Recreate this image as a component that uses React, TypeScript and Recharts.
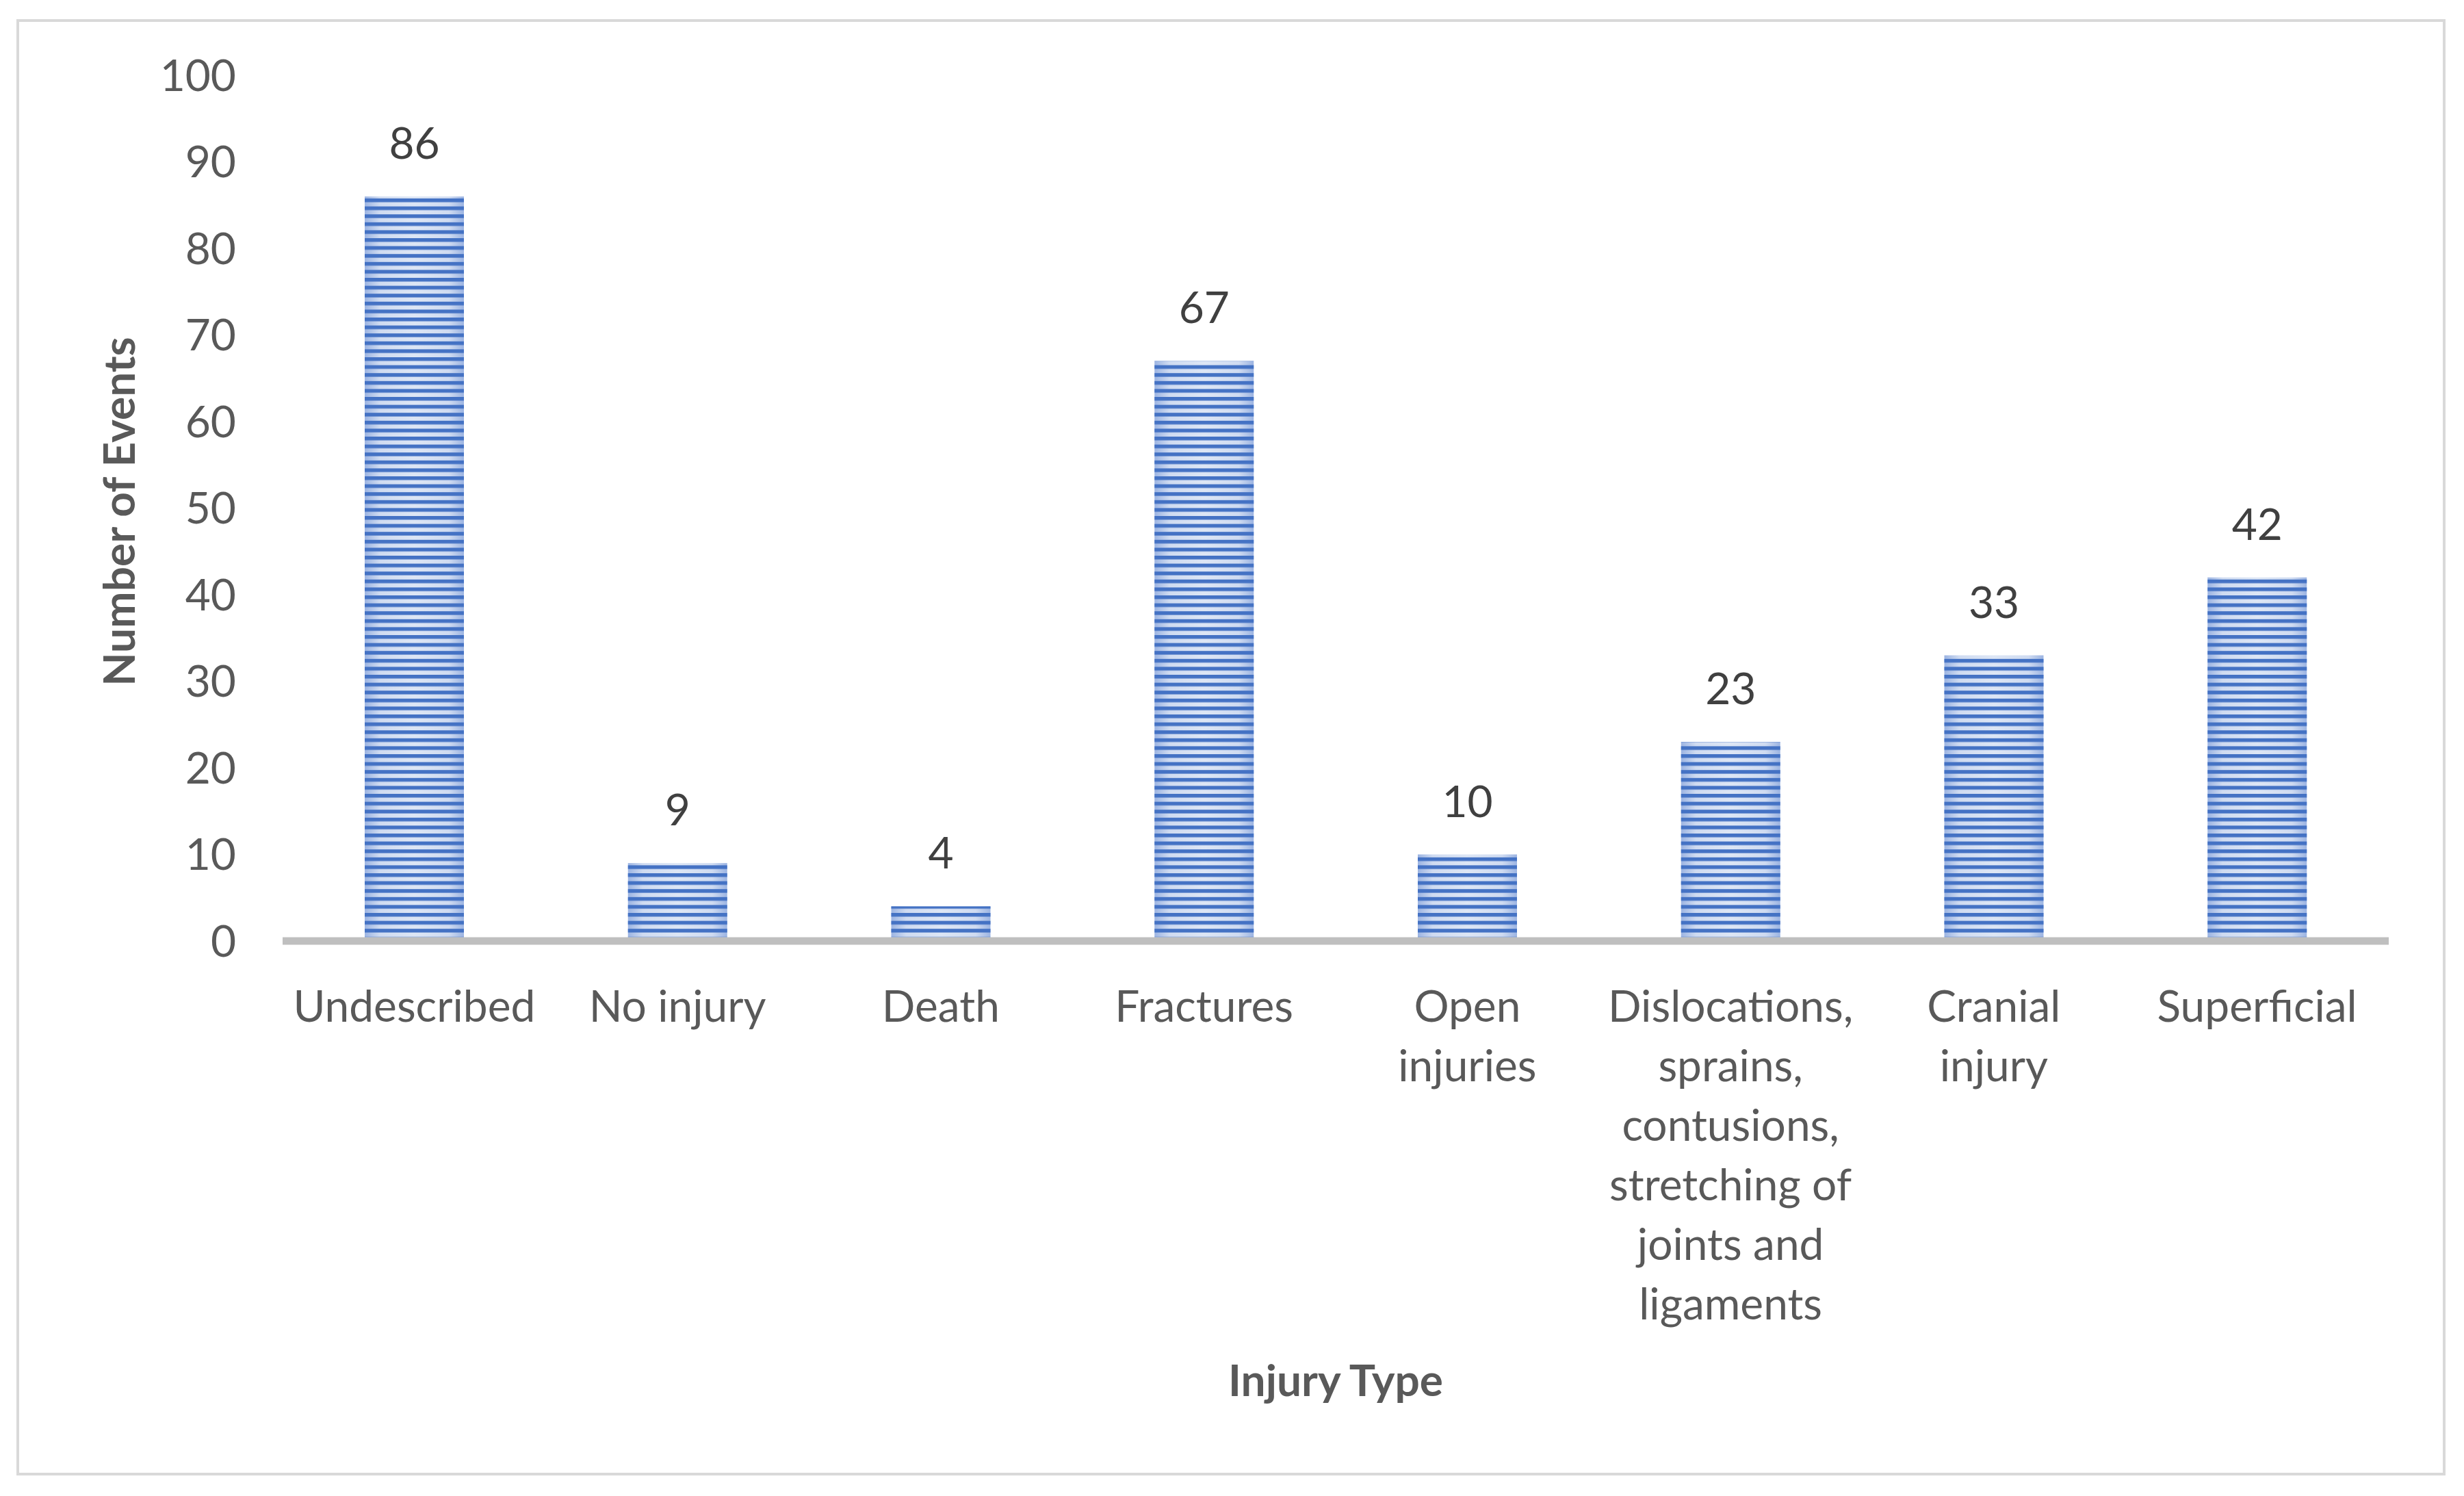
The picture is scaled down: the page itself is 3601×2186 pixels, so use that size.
import React from 'react';
import { BarChart, Bar, XAxis, YAxis, LabelList } from 'recharts';

const categories = [
  'Undescribed',
  'No injury',
  'Death',
  'Fractures',
  'Open injuries',
  'Dislocations, sprains, contusions, stretching of joints and ligaments',
  'Cranial injury',
  'Superficial',
];

const events = [86, 9, 4, 67, 10, 23, 33, 42];

// how the category labels wrap under the axis
const tickLines = [
  ['Undescribed'],
  ['No injury'],
  ['Death'],
  ['Fractures'],
  ['Open', 'injuries'],
  ['Dislocations,', 'sprains,', 'contusions,', 'stretching of', 'joints and', 'ligaments'],
  ['Cranial', 'injury'],
  ['Superficial'],
];

const yTicks = [0, 10, 20, 30, 40, 50, 60, 70, 80, 90, 100];

const data = categories.map((name, i) => ({ name, value: events[i] }));

const FONT = 'Lato, "Open Sans", sans-serif';
const FONT_SIZE = 64;
const LINE_H = 87;
const AXIS_W = 11;

const CategoryTick = (props: any) => {
  const { x, y, index } = props;
  const lines = tickLines[index] || [];
  return (
    <text x={x} y={y} textAnchor="middle" fill="#595959" fontFamily={FONT} fontSize={FONT_SIZE}>
      {lines.map((line, i) => (
        <tspan key={i} x={x} y={y + i * LINE_H} dy="0.71em">
          {line}
        </tspan>
      ))}
    </text>
  );
};

// bar stops at the top edge of the thick axis line
const StripedBar = (props: any) => {
  const { x, y, width, height } = props;
  const h = height - AXIS_W / 2;
  if (!h || h <= 0) return null;
  return (
    <g>
      <rect x={x} y={y} width={width} height={h} fill="url(#barShade)" />
      <rect x={x} y={y} width={width} height={h} fill="url(#barStripes)" />
    </g>
  );
};

const App: React.FC = () => {
  return (
    <div style={{ position: 'relative', width: 3601, height: 2186, background: '#fff', fontFamily: FONT }}>
      <style>{'body{margin:0;background:#fff;}'}</style>
      <div
        style={{
          position: 'absolute',
          left: 24,
          top: 28,
          width: 3550,
          height: 2128,
          border: '4px solid #d9d9d9',
          boxSizing: 'border-box',
        }}
      />
      <div style={{ position: 'absolute', left: 0, top: 0 }}>
        <BarChart
          width={3601}
          height={2186}
          data={data}
          margin={{ top: 110, right: 110, bottom: 111, left: 0 }}
          barSize={145}
        >
          <defs>
            <linearGradient id="barShade" x1="0" y1="0" x2="1" y2="0">
              <stop offset="0%" stopColor="#9cb4e2" />
              <stop offset="15%" stopColor="#cfdbf1" />
              <stop offset="50%" stopColor="#dde6f5" />
              <stop offset="85%" stopColor="#cfdbf1" />
              <stop offset="100%" stopColor="#9cb4e2" />
            </linearGradient>
            <pattern id="barStripes" patternUnits="userSpaceOnUse" width="20" height="11.6">
              <rect x="0" y="0" width="20" height="5.4" fill="#4472c4" />
            </pattern>
          </defs>
          <XAxis
            dataKey="name"
            height={700}
            interval={0}
            tickLine={false}
            tickSize={0}
            tickMargin={73}
            axisLine={{ stroke: '#bfbfbf', strokeWidth: AXIS_W }}
            tick={<CategoryTick />}
            label={{
              content: (p: any) => {
                const vb = p.viewBox;
                return (
                  <text
                    x={vb.x + vb.width / 2}
                    y={vb.y + 665}
                    textAnchor="middle"
                    fill="#595959"
                    fontFamily={FONT}
                    fontSize={FONT_SIZE}
                    fontWeight="bold"
                  >
                    Injury Type
                  </text>
                );
              },
            }}
          />
          <YAxis
            width={413}
            domain={[0, 100]}
            ticks={yTicks}
            axisLine={false}
            tickLine={false}
            tickSize={0}
            tickMargin={68}
            tick={{ fill: '#595959', fontFamily: FONT, fontSize: FONT_SIZE }}
            label={{
              content: (p: any) => {
                const vb = p.viewBox;
                const cx = vb.x + 172;
                const cy = vb.y + vb.height / 2 + 5;
                return (
                  <text
                    x={cx}
                    y={cy}
                    transform={`rotate(-90, ${cx}, ${cy})`}
                    textAnchor="middle"
                    dominantBaseline="central"
                    fill="#595959"
                    fontFamily={FONT}
                    fontSize={FONT_SIZE}
                    fontWeight="bold"
                  >
                    Number of Events
                  </text>
                );
              },
            }}
          />
          <Bar dataKey="value" shape={<StripedBar />} isAnimationActive={false}>
            <LabelList
              dataKey="value"
              position="top"
              offset={55}
              fill="#404040"
              fontFamily={FONT}
              fontSize={FONT_SIZE}
            />
          </Bar>
        </BarChart>
      </div>
    </div>
  );
};

export default App;
